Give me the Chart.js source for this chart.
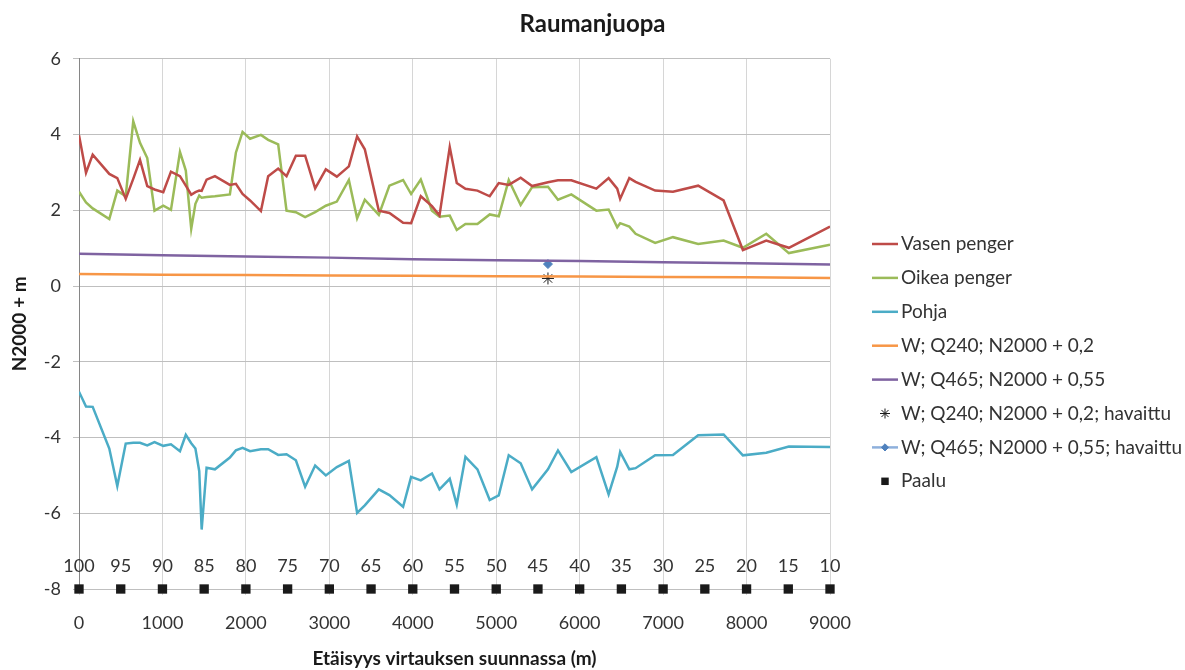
<!DOCTYPE html>
<html lang="fi">
<head>
<meta charset="utf-8">
<title>Raumanjuopa</title>
<script src="https://cdn.jsdelivr.net/npm/chart.js@4.4.1/dist/chart.umd.min.js"></script>
<style>
  html, body { margin: 0; padding: 0; background: #fff; }
  #wrap { width: 1185px; height: 670px; }
</style>
</head>
<body>
<div id="wrap"><canvas id="profile"></canvas></div>
<script>
// Poikkileikkausten etäisyydet (m) ja korkeudet (N2000 + m)
const distances = [0, 84, 164, 363, 459, 560, 650, 731, 818, 905, 1010, 1102, 1210, 1280, 1345, 1395, 1441, 1470, 1529, 1629,
  1808, 1880, 1960, 2050, 2180, 2267, 2387, 2487, 2599, 2710, 2830, 2958, 3090, 3234, 3333, 3425, 3593, 3720, 3884, 3980,
  4096, 4230, 4320, 4443, 4527, 4631, 4775, 4922, 5030, 5150, 5293, 5430, 5620, 5740, 5900, 6200, 6347, 6450, 6485, 6595,
  6670, 6905, 7118, 7420, 7725, 7956, 8236, 8507, 9000];
const leftBank = [3.98, 2.99, 3.47, 2.96, 2.85, 2.30, 2.83, 3.33, 2.64, 2.55, 2.48, 3.02, 2.90, 2.65, 2.41, 2.48, 2.52, 2.51, 2.81, 2.90,
  2.67, 2.70, 2.43, 2.26, 1.98, 2.90, 3.10, 2.90, 3.44, 3.44, 2.58, 3.08, 2.89, 3.16, 3.95, 3.61, 1.99, 1.93, 1.67, 1.66,
  2.37, 2.11, 1.86, 3.67, 2.72, 2.57, 2.52, 2.37, 2.72, 2.67, 2.86, 2.64, 2.74, 2.79, 2.79, 2.57, 2.85, 2.57, 2.30, 2.85,
  2.75, 2.52, 2.49, 2.65, 2.26, 0.95, 1.20, 1.01, 1.57];
const rightBank = [2.49, 2.21, 2.05, 1.77, 2.52, 2.37, 4.35, 3.78, 3.38, 1.99, 2.12, 2.01, 3.54, 3.05, 1.51, 2.17, 2.39, 2.33, 2.35, 2.37,
  2.42, 3.52, 4.07, 3.89, 3.99, 3.86, 3.74, 1.99, 1.95, 1.82, 1.95, 2.12, 2.23, 2.80, 1.79, 2.28, 1.88, 2.65, 2.80, 2.43,
  2.81, 1.99, 1.83, 1.86, 1.48, 1.64, 1.64, 1.89, 1.84, 2.80, 2.14, 2.61, 2.62, 2.28, 2.42, 1.99, 2.02, 1.55, 1.66, 1.57,
  1.38, 1.14, 1.29, 1.11, 1.20, 1.01, 1.38, 0.87, 1.09];
const bed = [-2.79, -3.18, -3.19, -4.29, -5.28, -4.16, -4.14, -4.14, -4.21, -4.12, -4.22, -4.18, -4.36, -3.93, -4.15, -4.29, -4.89, -6.43, -4.80, -4.84,
  -4.53, -4.34, -4.27, -4.36, -4.31, -4.31, -4.46, -4.44, -4.60, -5.30, -4.74, -5.00, -4.78, -4.62, -5.99, -5.79, -5.37, -5.52, -5.83, -5.04,
  -5.13, -4.95, -5.37, -5.09, -5.77, -4.51, -4.84, -5.65, -5.53, -4.47, -4.68, -5.37, -4.84, -4.34, -4.91, -4.52, -5.50, -4.77, -4.38, -4.84,
  -4.81, -4.47, -4.46, -3.94, -3.92, -4.47, -4.40, -4.24, -4.25];

// Lasketut vedenpinnat
const waterDist = [0, 1000, 2000, 3000, 4000, 5000, 6000, 7000, 8000, 9000];
const waterQ240 = [0.32, 0.30, 0.29, 0.28, 0.27, 0.26, 0.25, 0.24, 0.23, 0.21];
const waterQ465 = [0.85, 0.81, 0.78, 0.75, 0.71, 0.68, 0.66, 0.63, 0.60, 0.57];

// Havaitut vedenpinnat
const observedDist = [5620];
const observedQ240 = [0.2];
const observedQ465 = [0.58];

// Paalut
const paaluDist = [0, 500, 1000, 1500, 2000, 2500, 3000, 3500, 4000, 4500, 5000, 5500, 6000, 6500, 7000, 7500, 8000, 8500, 9000];
const paaluLabels = ['100', '95', '90', '85', '80', '75', '70', '65', '60', '55', '50', '45', '40', '35', '30', '25', '20', '15', '10'];
const paaluLevel = -8;

const FONT = 'Lato, "Liberation Sans", sans-serif';
const TEXT = '#333333';

const pts = (xs, ys) => xs.map((x, i) => ({ x, y: ys[i] }));

function lineSet(label, xs, ys, color) {
  return {
    label, data: pts(xs, ys), showLine: true, borderColor: color, backgroundColor: color,
    borderWidth: 2.5, pointRadius: 0, pointHoverRadius: 0, tension: 0, legendIcon: 'line'
  };
}

const datasets = [
  lineSet('Vasen penger', distances, leftBank, '#BE4B48'),
  lineSet('Oikea penger', distances, rightBank, '#9BBB59'),
  lineSet('Pohja', distances, bed, '#4BACC6'),
  lineSet('W; Q240; N2000 + 0,2', waterDist, waterQ240, '#F79646'),
  lineSet('W; Q465; N2000 + 0,55', waterDist, waterQ465, '#7F63A1'),
  {
    label: 'W; Q240; N2000 + 0,2; havaittu', data: pts(observedDist, observedQ240), showLine: false,
    pointStyle: 'star', pointRadius: 6, borderColor: '#1a1a1a', backgroundColor: '#1a1a1a', borderWidth: 1, legendIcon: 'star'
  },
  {
    label: 'W; Q465; N2000 + 0,55; havaittu', data: pts(observedDist, observedQ465), showLine: false,
    pointStyle: 'rectRot', pointRadius: 4.5, borderColor: '#4F81BD', backgroundColor: '#4F81BD', borderWidth: 1, legendIcon: 'lineDiamond'
  },
  {
    label: 'Paalu', data: pts(paaluDist, paaluDist.map(() => paaluLevel)), showLine: false,
    pointStyle: 'rect', pointRadius: 6.6, borderColor: '#1a1a1a', backgroundColor: '#1a1a1a', borderWidth: 0, legendIcon: 'square',
    clip: false
  }
];

// Paalujen numerot merkkien yläpuolelle
const paaluLabelPlugin = {
  id: 'paaluLabels',
  afterDatasetsDraw(chart) {
    const idx = chart.data.datasets.findIndex(d => d.label === 'Paalu');
    const meta = chart.getDatasetMeta(idx);
    const ctx = chart.ctx;
    ctx.save();
    ctx.font = '18px ' + FONT;
    ctx.fillStyle = TEXT;
    ctx.textAlign = 'center';
    ctx.textBaseline = 'middle';
    meta.data.forEach((el, i) => ctx.fillText(paaluLabels[i], el.x, el.y - 23));
    ctx.restore();
  }
};

// Selite oikealle
const legendPlugin = {
  id: 'sideLegend',
  afterDraw(chart) {
    const ctx = chart.ctx;
    const x0 = chart.chartArea.right + 42;
    const y0 = 244;
    const step = 33.9;
    ctx.save();
    ctx.font = '19px ' + FONT;
    ctx.textBaseline = 'middle';
    chart.data.datasets.forEach((ds, i) => {
      const y = y0 + i * step;
      const cx = x0 + 13;
      ctx.strokeStyle = ds.borderColor;
      ctx.fillStyle = ds.backgroundColor;
      if (ds.legendIcon === 'line' || ds.legendIcon === 'lineDiamond') {
        ctx.lineWidth = 2.5;
        ctx.strokeStyle = ds.legendIcon === 'lineDiamond' ? '#8EB0DC' : ds.borderColor;
        ctx.beginPath();
        ctx.moveTo(x0, y);
        ctx.lineTo(x0 + 26, y);
        ctx.stroke();
      }
      if (ds.legendIcon !== 'line') {
        ctx.strokeStyle = ds.borderColor;
        ctx.lineWidth = ds.borderWidth;
        Chart.helpers.drawPoint(ctx, {
          pointStyle: ds.pointStyle, radius: ds.legendIcon === 'star' ? 5 : ds.pointRadius * 0.8,
          borderWidth: ds.legendIcon === 'square' ? 0 : ds.borderWidth, rotation: 0
        }, cx, y);
      }
      ctx.fillStyle = TEXT;
      ctx.fillText(ds.label, x0 + 29, y);
    });
    ctx.restore();
  }
};

new Chart(document.getElementById('profile'), {
  type: 'scatter',
  data: { datasets },
  plugins: [paaluLabelPlugin, legendPlugin],
  options: {
    responsive: true,
    maintainAspectRatio: false,
    animation: false,
    layout: { padding: 0 },
    plugins: {
      legend: { display: false },
      tooltip: { enabled: false },
      title: {
        display: true, text: 'Raumanjuopa', color: '#1a1a1a',
        font: { family: FONT, size: 24, weight: 'bold' }, padding: { top: 10, bottom: 20 }
      }
    },
    scales: {
      x: {
        type: 'linear', min: 0, max: 9000,
        ticks: {
          stepSize: 1000, color: TEXT, font: { family: FONT, size: 18 }, padding: 17, maxRotation: 0,
          callback: v => String(v)
        },
        grid: { color: '#d6d6d6', drawTicks: true, tickLength: 6 },
        border: { display: true, color: '#bfbfbf' },
        title: {
          display: true, text: 'Etäisyys virtauksen suunnassa (m)', color: '#1a1a1a',
          font: { family: FONT, size: 19, weight: 'bold' }, padding: { top: 0, bottom: 0 }
        },
        afterFit(scale) { scale.height = 81; }
      },
      y: {
        min: -8, max: 6,
        ticks: { stepSize: 2, color: TEXT, font: { family: FONT, size: 18 }, padding: 12 },
        grid: { color: '#bfbfbf', drawTicks: true, tickLength: 6 },
        border: { display: true, color: '#868686' },
        title: {
          display: true, text: 'N2000 + m', color: '#1a1a1a',
          font: { family: FONT, size: 19, weight: 'bold' }, padding: { top: 8, bottom: 0 }
        },
        afterFit(scale) { scale.width = 79; }
      },
      // tyhjä tila selitteelle oikealla
      legendSpace: {
        type: 'linear', position: 'right', display: true,
        grid: { display: false }, ticks: { display: false }, border: { display: false },
        afterFit(scale) { scale.width = 355; }
      }
    }
  }
});
</script>
</body>
</html>
